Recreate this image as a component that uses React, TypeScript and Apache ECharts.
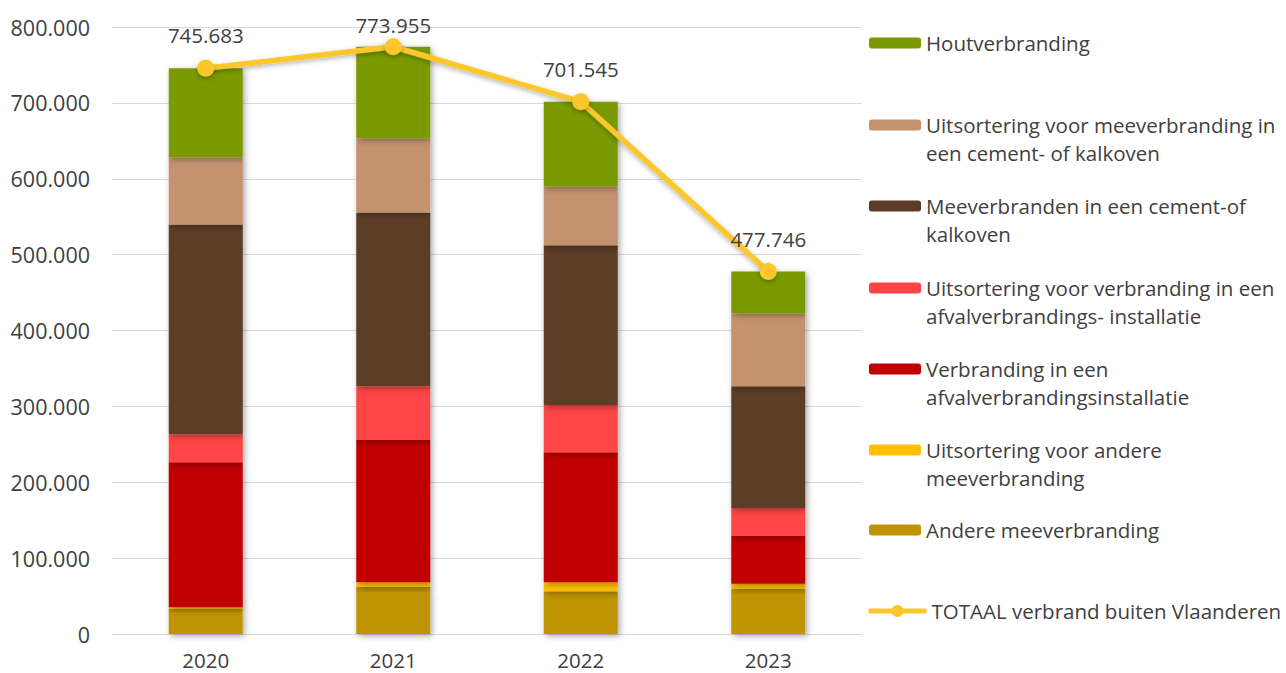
import React, { useEffect, useRef } from "react";
import * as echarts from "echarts";

const years = ["2020", "2021", "2022", "2023"];

const andereMeeverbranding = [32800, 61900, 56200, 59900];
const uitsorteringAndere = [2600, 6300, 12000, 6200];
const verbrandingAfval = [191000, 187400, 171300, 63000];
const uitsorteringVerbranding = [37000, 70800, 62400, 37000];
const meeverbrandenCement = [276400, 229000, 210300, 160300];
const uitsorteringCement = [88500, 98000, 77600, 96300];
const houtverbranding = [117400, 120600, 111700, 55000];
const totaal = [745683, 773955, 701545, 477746];

const yTicks = [0, 100000, 200000, 300000, 400000, 500000, 600000, 700000, 800000];

const barSeriesDefs = [
  { name: "Andere meeverbranding", data: andereMeeverbranding, color: "#C09400" },
  { name: "Uitsortering voor andere meeverbranding", data: uitsorteringAndere, color: "#FFC000" },
  { name: "Verbranding in een afvalverbrandingsinstallatie", data: verbrandingAfval, color: "#C00000" },
  { name: "Uitsortering voor verbranding in een afvalverbrandings- installatie", data: uitsorteringVerbranding, color: "#FF4545" },
  { name: "Meeverbranden in een cement-of kalkoven", data: meeverbrandenCement, color: "#5C3C28" },
  { name: "Uitsortering voor meeverbranding in een cement- of kalkoven", data: uitsorteringCement, color: "#C4926E" },
  { name: "Houtverbranding", data: houtverbranding, color: "#7A9A01" },
];
const totalName = "TOTAAL verbrand buiten Vlaanderen";

// legend display (order, wrapped text, icon centre y)
const legendItems = [
  { name: "Houtverbranding", text: "Houtverbranding", y: 43 },
  { name: "Uitsortering voor meeverbranding in een cement- of kalkoven", text: "Uitsortering voor meeverbranding in\neen cement- of kalkoven", y: 125 },
  { name: "Meeverbranden in een cement-of kalkoven", text: "Meeverbranden in een cement-of\nkalkoven", y: 206 },
  { name: "Uitsortering voor verbranding in een afvalverbrandings- installatie", text: "Uitsortering voor verbranding in een\nafvalverbrandings- installatie", y: 288 },
  { name: "Verbranding in een afvalverbrandingsinstallatie", text: "Verbranding in een\nafvalverbrandingsinstallatie", y: 369 },
  { name: "Uitsortering voor andere meeverbranding", text: "Uitsortering voor andere\nmeeverbranding", y: 450 },
  { name: "Andere meeverbranding", text: "Andere meeverbranding", y: 530 },
  { name: totalName, text: totalName, y: 611 },
];

const fmt = (v: number) => String(Math.round(v)).replace(/\B(?=(\d{3})+(?!\d))/g, ".");

const FONT = "'Open Sans', sans-serif";
const TEXT = "#404040";
const LINE = "#FCC72C";
const LH = 28;

export default function App() {
  const ref = useRef<HTMLDivElement>(null);
  useEffect(() => {
    document.body.style.margin = "0";
    if (!ref.current) return;
    const chart = echarts.init(ref.current, undefined, { renderer: "svg" });

    const legends = legendItems.map((it) => {
      const twoLine = it.text.includes("\n");
      const isLine = it.name === totalName;
      // two-line items: an empty leading line keeps the marker level with the first line
      const shown = twoLine ? "\n" + it.text : it.text;
      const boxH = twoLine ? LH * 3 : LH;
      return {
        orient: "vertical",
        left: isLine ? 866 : 869,
        top: it.y - boxH / 2,
        padding: 0,
        itemWidth: isLine ? 58 : 52,
        itemHeight: isLine ? 15 : 11,
        itemGap: 0,
        selectedMode: false,
        lineStyle: isLine ? { width: 5, color: LINE } : undefined,
        data: [it.name],
        formatter: () => shown,
        textStyle: {
          fontFamily: FONT,
          fontSize: 20.5,
          color: TEXT,
          lineHeight: LH,
        },
      };
    });

    const option: any = {
      animation: false,
      backgroundColor: "#ffffff",
      textStyle: { fontFamily: FONT },
      grid: { left: 112, right: 424, top: 27, bottom: 39, containLabel: false },
      legend: legends,
      xAxis: {
        type: "category",
        data: years,
        axisLine: { show: true, lineStyle: { color: "#D9D9D9", width: 1 } },
        axisTick: { show: false },
        axisLabel: { fontFamily: FONT, fontSize: 20.5, color: TEXT, margin: 15 },
      },
      yAxis: {
        type: "value",
        min: yTicks[0],
        max: yTicks[yTicks.length - 1],
        interval: 100000,
        axisLine: { show: false },
        axisTick: { show: false },
        splitLine: { lineStyle: { color: "#D9D9D9", width: 1 } },
        axisLabel: { fontFamily: FONT, fontSize: 21.5, color: TEXT, margin: 22, formatter: (v: number) => fmt(v) },
      },
      series: [
        ...barSeriesDefs.map((s) => ({
          name: s.name,
          type: "bar",
          stack: "total",
          barWidth: 74,
          data: s.data,
          itemStyle: {
            color: s.color,
            shadowBlur: 6,
            shadowColor: "rgba(0,0,0,0.35)",
            shadowOffsetX: 2,
            shadowOffsetY: 2,
          },
        })),
        {
          name: totalName,
          type: "line",
          // the highest label is pushed down to stay inside the chart, as in the original
          data: totaal.map((v, i) => (i === 1 ? { value: v, label: { distance: 3 } } : v)),
          symbol: "circle",
          symbolSize: 17,
          z: 10,
          lineStyle: { color: LINE, width: 5.5, shadowBlur: 5, shadowColor: "rgba(0,0,0,0.3)", shadowOffsetY: 2 },
          itemStyle: { color: LINE, shadowBlur: 5, shadowColor: "rgba(0,0,0,0.3)", shadowOffsetY: 2 },
          label: {
            show: true,
            position: "top",
            distance: 14,
            fontFamily: FONT,
            fontSize: 20.5,
            color: TEXT,
            formatter: (p: any) => fmt(p.value),
          },
        },
      ],
    };
    chart.setOption(option);
    return () => chart.dispose();
  }, []);
  return <div ref={ref} style={{ width: 1286, height: 673 }} />;
}
